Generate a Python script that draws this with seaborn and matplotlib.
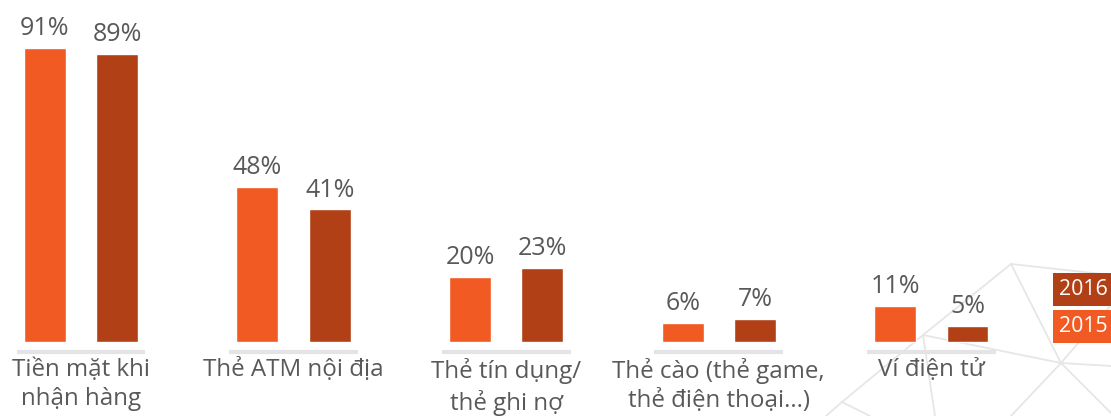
import matplotlib
matplotlib.use("Agg")
import matplotlib.pyplot as plt
from matplotlib.lines import Line2D
import pandas as pd
import seaborn as sns

# Payment methods used for online shopping, share of respondents (%)
categories = [
    "Tiền mặt khi\nnhận hàng",
    "Thẻ ATM nội địa",
    "Thẻ tín dụng/\nthẻ ghi nợ",
    "Thẻ cào (thẻ game,\nthẻ điện thoại...)",
    "Ví điện tử",
]
years = ["2015", "2016"]
values_2015 = [91, 48, 20, 6, 11]
values_2016 = [89, 41, 23, 7, 5]

ORANGE = "#F15A22"
RUST = "#B14017"
TEXT = "#595959"
RULE = "#E4E4E6"
NET = "#E6E6E6"

sns.set_theme(style="white")
plt.rcParams["font.family"] = ["Open Sans", "DejaVu Sans"]

df = pd.DataFrame({
    "category": categories * 2,
    "year": [years[0]] * len(categories) + [years[1]] * len(categories),
    "value": values_2015 + values_2016,
})

fig = plt.figure(figsize=(11.11, 4.16), dpi=100)
fig.patch.set_facecolor("white")

# faint decorative network in the lower-right corner
W, H = 1111, 416
def px(x, y):
    return x / W, 1 - y / H
segments = [
    ((1011, 264), (1111, 275)),
    ((1011, 264), (923, 335)),
    ((1011, 264), (1061, 363)),
    ((923, 335), (1061, 363)),
    ((923, 335), (935, 416)),
    ((923, 335), (842, 402)),
    ((842, 402), (826, 416)),
    ((842, 402), (870, 416)),
    ((1061, 363), (1111, 305)),
    ((1061, 363), (1011, 416)),
    ((1061, 363), (1111, 413)),
    ((1061, 363), (1111, 366)),
]
for (x0, y0), (x1, y1) in segments:
    a, b = px(x0, y0)
    c, d = px(x1, y1)
    fig.add_artist(Line2D([a, c], [b, d], color=NET, lw=1.3, zorder=-5))

ax = fig.add_axes([0, 0, 1, 1])
ax.patch.set_visible(False)

sns.barplot(
    data=df, x="category", y="value", hue="year",
    hue_order=years, palette=[ORANGE, RUST],
    width=0.68, gap=0.42, legend=False, ax=ax, saturation=1,
)

for cont in ax.containers:
    ax.bar_label(cont, fmt="{:g}%", padding=5, fontsize=18, color=TEXT)

# grey baseline under each group and the category name beneath it
for i, name in enumerate(categories):
    ax.plot([i - 0.303, i + 0.303], [-3.1, -3.1], color=RULE, lw=3,
            solid_capstyle="butt")
    ax.text(i, -5.0, name, ha="center", va="top", fontsize=17.4,
            color=TEXT, linespacing=1.28)

ax.set_xlim(-0.381, 4.845)
ax.set_ylim(-22.9, 105.8)
ax.axis("off")

# year legend: coloured boxes with white labels at the right edge
for label, color, y in [("2016", RUST, 289.5), ("2015", ORANGE, 326.5)]:
    fx, fy = px(1059, y)
    fig.text(fx, fy, label, ha="left", va="center", fontsize=15.3,
             color="white",
             bbox=dict(boxstyle="square,pad=0.28", facecolor=color,
                       edgecolor="none"))

fig.savefig("out.png", dpi=100, facecolor="white")
